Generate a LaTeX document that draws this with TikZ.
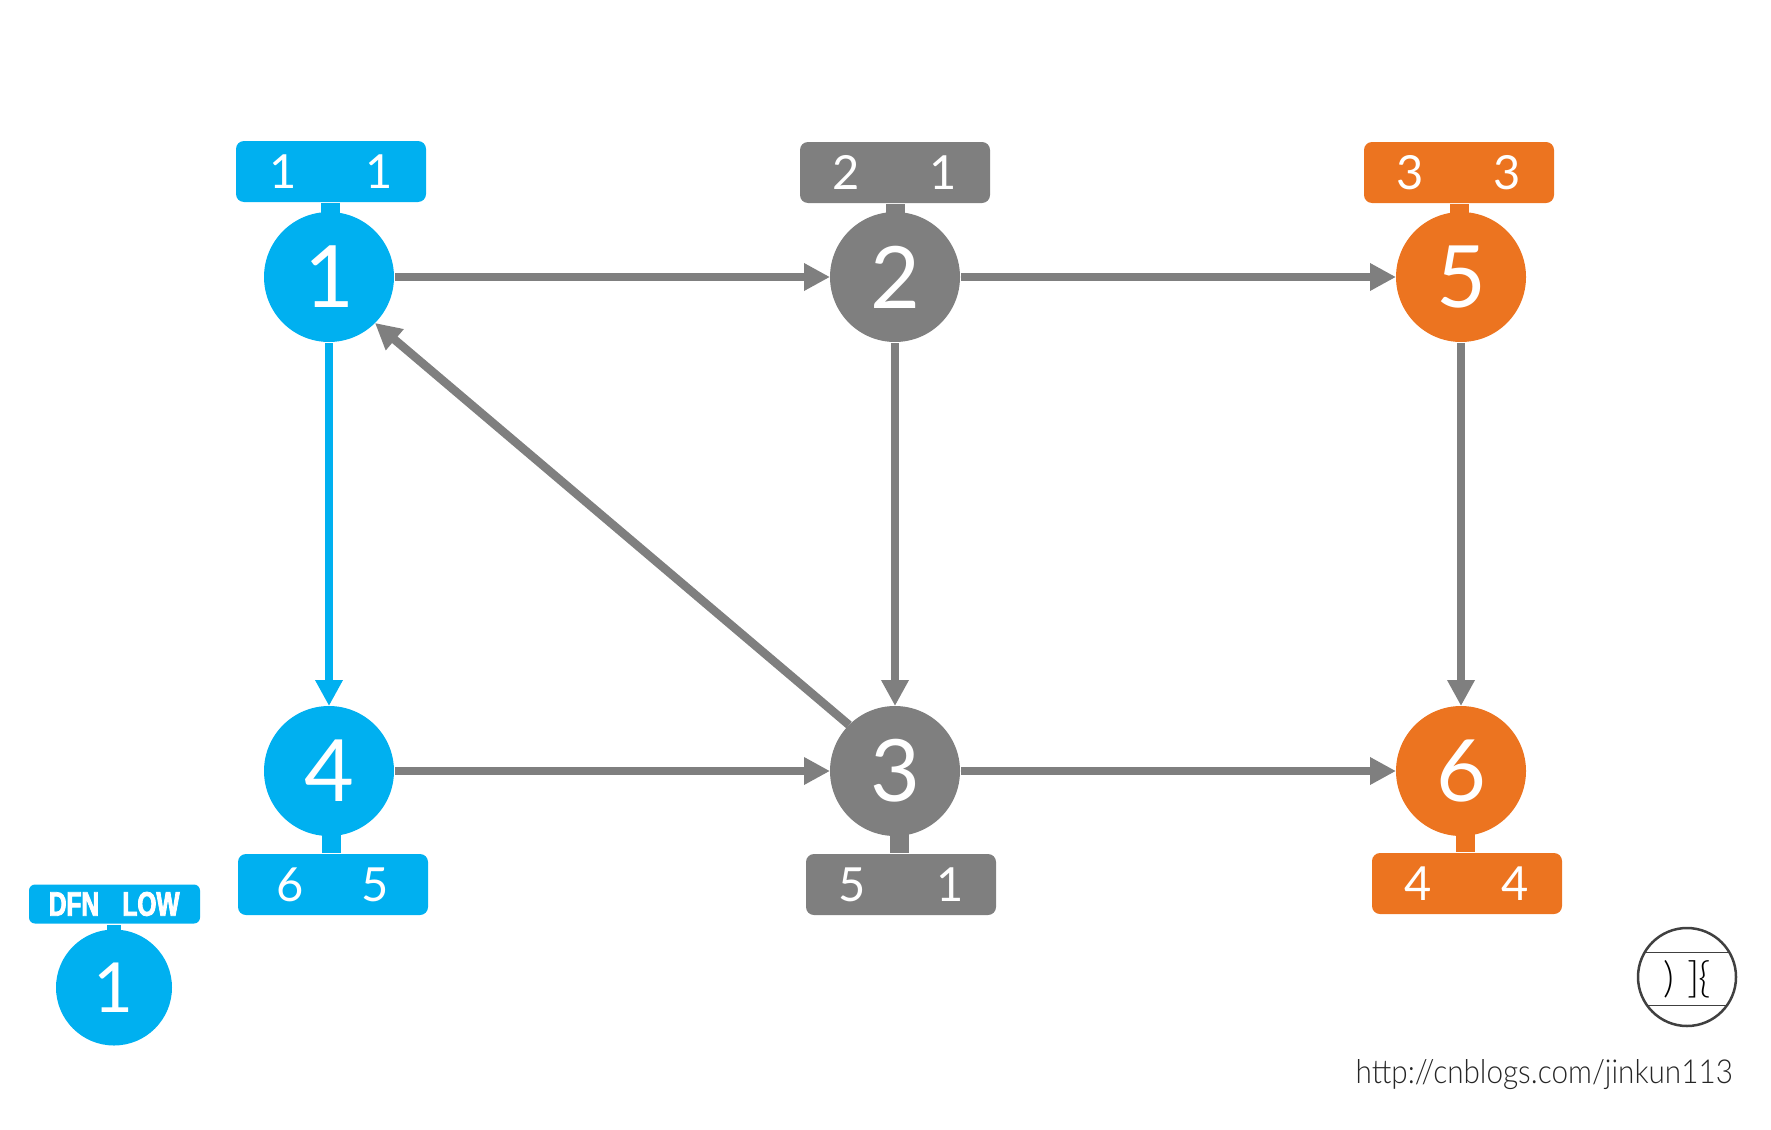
\documentclass[tikz,border=0pt]{standalone}
\usepackage{fontspec}
\usetikzlibrary{arrows.meta}
\setmainfont{Lato}
\newfontfamily\thinfont{Lato Light}
\newfontfamily\urlfont[FakeStretch=0.9]{Lato Light}
\newfontfamily\tagfont[FakeStretch=0.72,FakeBold=2.5]{Liberation Sans Bold}
\definecolor{cblue}{HTML}{00B0F0}
\definecolor{cgray}{HTML}{7F7F7F}
\definecolor{corange}{HTML}{EC7420}
\definecolor{cink}{HTML}{404040}
\newcommand{\fs}[1]{\fontsize{#1}{#1}\selectfont}
\tikzset{
  vertex/.style={circle,fill=#1,inner sep=0pt,outer sep=0pt,minimum size=130pt,text=white,font=\fs{86}},
  smallvertex/.style={circle,fill=#1,inner sep=0pt,outer sep=0pt,minimum size=116pt,text=white,font=\fs{69}},
  tagbox/.style={rectangle,rounded corners=8pt,fill=#1,inner sep=0pt,outer sep=0pt,minimum width=190pt,minimum height=61pt},
  legendbox/.style={rectangle,rounded corners=6pt,fill=#1,inner sep=0pt,outer sep=0pt,minimum width=171pt,minimum height=39pt},
  tagnum/.style={text=white,inner sep=0pt,outer sep=0pt,font=\fs{47}},
  legendtag/.style={text=white,inner sep=0pt,outer sep=0pt,font=\tagfont\fs{34}},
  stem/.style={draw=#1,line width=19pt,shorten >=-2pt,shorten <=-2pt},
  legendstem/.style={draw=#1,line width=14pt,shorten >=-2pt,shorten <=-2pt},
  edge/.style={draw=#1,line width=8.5pt,-{Triangle[length=26pt,width=26pt]}},
  logoline/.style={draw=cink,line width=1pt},
}
\begin{document}
\begin{tikzpicture}[x=1pt,y=-1pt]
\useasboundingbox (0,0) rectangle (1771,1129);
% vertices
\node[vertex=cblue]   (n1) at (329,277) {1};
\node[vertex=cgray]   (n2) at (895,277) {2};
\node[vertex=corange] (n5) at (1461,277) {5};
\node[vertex=cblue]   (n4) at (329,771) {4};
\node[vertex=cgray]   (n3) at (895,771) {3};
\node[vertex=corange] (n6) at (1461,771) {6};
% tag boxes
\node[tagbox=cblue]   (b1) at (331,171.5) {};
\node[tagbox=cgray]   (b2) at (895,172.5) {};
\node[tagbox=corange] (b5) at (1459,172.5) {};
\node[tagbox=cblue]   (b4) at (333,884.5) {};
\node[tagbox=cgray]   (b3) at (901,884.5) {};
\node[tagbox=corange] (b6) at (1467,883.5) {};
% stems
\draw[stem=cblue]   ([xshift=1.5pt,yshift=-3pt]n1.north) -- ([xshift=1.5pt,yshift=-3pt]n1.north |- b1.south);
\draw[stem=cgray]   ([yshift=-3pt]n2.north) -- ([yshift=-3pt]n2.north |- b2.south);
\draw[stem=corange] ([xshift=-2pt,yshift=-3pt]n5.north) -- ([xshift=-2pt,yshift=-3pt]n5.north |- b5.south);
\draw[stem=cblue]   ([xshift=2pt,yshift=3pt]n4.south) -- ([xshift=2pt,yshift=3pt]n4.south |- b4.north);
\draw[stem=cgray]   ([xshift=4pt,yshift=3pt]n3.south) -- ([xshift=4pt,yshift=3pt]n3.south |- b3.north);
\draw[stem=corange] ([xshift=4pt,yshift=3pt]n6.south) -- ([xshift=4pt,yshift=3pt]n6.south |- b6.north);
% tag numbers
\node[tagnum] (t1a) at ([xshift=-48pt]b1.center) {1};
\node[tagnum] (t1b) at ([xshift=48pt]b1.center) {1};
\node[tagnum] (t2a) at ([xshift=-49pt]b2.center) {2};
\node[tagnum] (t2b) at ([xshift=48pt]b2.center) {1};
\node[tagnum] (t5a) at ([xshift=-49pt]b5.center) {3};
\node[tagnum] (t5b) at ([xshift=48pt]b5.center) {3};
\node[tagnum] (t4a) at ([xshift=-43pt]b4.center) {6};
\node[tagnum] (t4b) at ([xshift=42pt]b4.center) {5};
\node[tagnum] (t3a) at ([xshift=-49pt]b3.center) {5};
\node[tagnum] (t3b) at ([xshift=49pt]b3.center) {1};
\node[tagnum] (t6a) at ([xshift=-49pt]b6.center) {4};
\node[tagnum] (t6b) at ([xshift=48pt]b6.center) {4};
% edges
\draw[edge=cgray] ([xshift=1pt]n1.east) -- (n2.west);
\draw[edge=cgray] ([xshift=1pt]n2.east) -- (n5.west);
\draw[edge=cgray] ([xshift=1pt]n4.east) -- (n3.west);
\draw[edge=cgray] ([xshift=1pt]n3.east) -- (n6.west);
\draw[edge=cgray] ([yshift=-1pt]n2.south) -- (n3.north);
\draw[edge=cgray] ([yshift=-1pt]n5.south) -- (n6.north);
\draw[edge=cblue] ([yshift=-1pt]n1.south) -- (n4.north);
\draw[edge=cgray] (n3.north west) -- (n1.south east);
% legend
\node[smallvertex=cblue] (lv) at (114,987.5) {1};
\node[legendbox=cblue]   (lb) at (114.5,904) {};
\draw[legendstem=cblue] ([yshift=-3pt]lv.north) -- ([yshift=-3pt]lv.north |- lb.south);
\node[legendtag] (ld) at (74,904) {DFN};
\node[legendtag] (ll) at (151,904) {LOW};
% logo
\node[circle,draw=cink,line width=2.5pt,inner sep=0pt,outer sep=0pt,minimum size=98pt] (logo) at (1687,977) {};
\draw[logoline] (logo.150) -- (logo.30);
\draw[logoline] (logo.216) -- (logo.324);
\node[text=black,inner sep=0pt,font=\thinfont\fs{42}] (logot) at (1687,979) {)\hspace{14pt}]\hspace{-2pt}\{};
% url
\node[anchor=base east,inner sep=0pt,text=black!85,font=\urlfont\fs{33}] (url) at (1733,1083) {http://cnblogs.com/jinkun113};
\end{tikzpicture}
\end{document}
